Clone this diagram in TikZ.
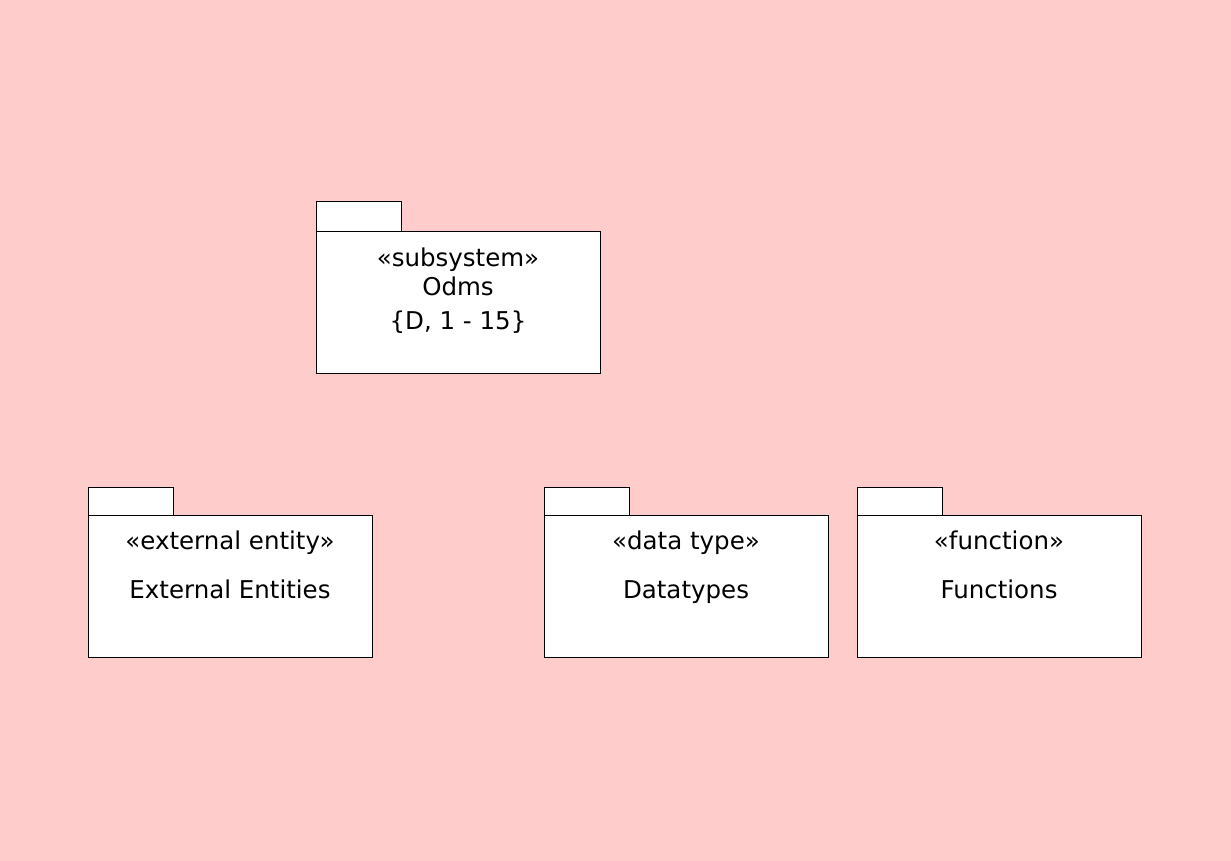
\documentclass[tikz,border=0pt]{standalone}
\usepackage{fontspec}
\setmainfont{DejaVu Sans}
\definecolor{bgpink}{RGB}{255,204,204}
\begin{document}
\begin{tikzpicture}[x=1pt,y=-1pt,
  pkg/.style={draw=black,fill=white,line width=1pt},
  lbl/.style={anchor=base,inner sep=0pt,font=\fontsize{24.5}{28}\selectfont}]
\fill[bgpink] (0,0) rectangle (1231,861);
\useasboundingbox (0,0) rectangle (1231,861);
% Odms
\draw[pkg] (316,202) rectangle (401,231);
\draw[pkg] (316,231) rectangle (600,373);
\node[lbl] (odmsst) at (458,266) {«subsystem»};
\node[lbl] (odmsn) at (458,295) {Odms};
\node[lbl] (odmst) at (458,329) {\{D, 1 - 15\}};
% External Entities
\draw[pkg] (88,487) rectangle (173,515);
\draw[pkg] (88,515) rectangle (372,657);
\node[lbl] (extst) at (230,549) {«external entity»};
\node[lbl] (extn) at (230,598) {External Entities};
% Datatypes
\draw[pkg] (544,487) rectangle (629,515);
\draw[pkg] (544,515) rectangle (828,657);
\node[lbl] (dtst) at (686,549) {«data type»};
\node[lbl] (dtn) at (686,598) {Datatypes};
% Functions
\draw[pkg] (857,487) rectangle (942,515);
\draw[pkg] (857,515) rectangle (1141,657);
\node[lbl] (fnst) at (999,549) {«function»};
\node[lbl] (fnn) at (999,598) {Functions};
\end{tikzpicture}
\end{document}
